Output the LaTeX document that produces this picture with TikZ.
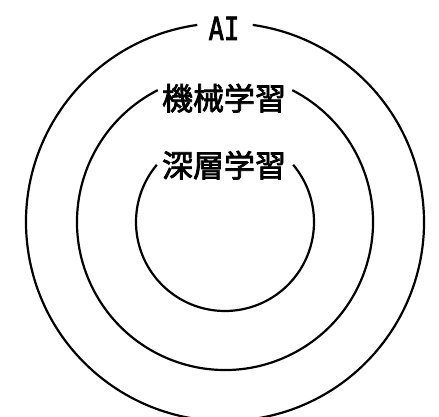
\documentclass[tikz,border=0pt]{standalone}
\usepackage{fontspec}
\newfontfamily\jpfont[FakeBold=2.5]{Noto Sans CJK JP}
\newfontfamily\monofont[FakeBold=2.5]{DejaVu Sans Mono}
\usetikzlibrary{positioning}

\begin{document}
\begin{tikzpicture}[x=1pt, y=1pt, line width=2.2pt,
    ring/.style={draw=black, line width=2.2pt},
    ringname/.style={anchor=base, inner sep=0pt, font=\jpfont\fontsize{31}{31}\selectfont},
    ainame/.style={anchor=base, inner sep=0pt, font=\monofont\fontsize{32}{32}\selectfont}]
    \useasboundingbox (0,0) rectangle (439,416);
    \coordinate (c) at (225,194);

    % labels sit in the gaps of the rings
    \node[ainame] (ai) at (224,376) {\scalebox{0.8}[1]{AI}};
    \node[ringname] (ml) at (224,306) {機械学習};
    \node[ringname] (dl) at (224,239) {深層学習};

    % rings, each open at the top
    \draw[ring] (c) ++(98:199) arc[start angle=98, end angle=442, radius=199];
    \draw[ring] (c) ++(117:148) arc[start angle=117, end angle=423, radius=148];
    \draw[ring] (c) ++(140:89) arc[start angle=140, end angle=400, radius=89];
\end{tikzpicture}
\end{document}
